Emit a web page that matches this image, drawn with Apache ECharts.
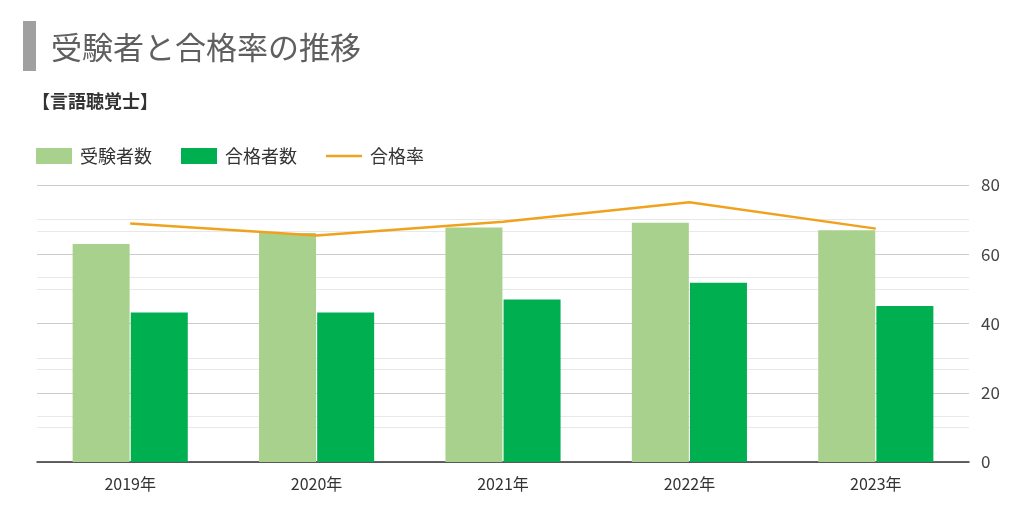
<!DOCTYPE html>
<html>
<head>
<meta charset="utf-8">
<script src="https://cdn.jsdelivr.net/npm/echarts@6/dist/echarts.min.js"></script>
<style>
html,body{margin:0;padding:0;background:#fff;}
#c{width:1024px;height:515px;}
</style>
</head>
<body>
<div id="c"></div>
<script>
const categories = ['2019年', '2020年', '2021年', '2022年', '2023年'];
const examinees = [2360, 2480, 2540, 2590, 2510];
const passers = [1620, 1620, 1760, 1940, 1690];
const passRate = [68.9, 65.4, 69.4, 75.0, 67.4];
const rateTicks = [0, 20, 40, 60, 80];

const FONT = '"Noto Sans CJK JP", "Noto Sans", sans-serif';
const chart = echarts.init(document.getElementById('c'), null, {renderer: 'canvas'});
chart.setOption({
  backgroundColor: '#ffffff',
  animation: false,
  textStyle: {fontFamily: FONT},
  graphic: [
    {type: 'rect', left: 23, top: 21, shape: {width: 13, height: 50}, style: {fill: '#a0a0a0'}},
    {type: 'text', left: 51, top: 32, style: {text: '受験者と合格率の推移', fill: '#5f5f5f', font: '31px ' + FONT}},
    {type: 'text', left: 32, top: 92, style: {text: '【言語聴覚士】', fill: '#333333', font: 'bold 18px ' + FONT}}
  ],
  legend: {
    left: 36, top: 147, padding: 0,
    itemWidth: 36, itemHeight: 16, itemGap: 29,
    textStyle: {fontSize: 18, color: '#333', fontFamily: FONT, padding: [0, 0, 0, 3]},
    data: [
      {name: '受験者数', icon: 'rect'},
      {name: '合格者数', icon: 'rect'},
      {name: '合格率', icon: 'path://M0,0 L36,0 L36,2.5 L0,2.5 Z'}]
  },
  grid: {left: 37, right: 55, top: 185, bottom: 53, containLabel: false},
  xAxis: {
    type: 'category', data: categories,
    axisTick: {show: false},
    axisLine: {lineStyle: {color: '#333', width: 1.5}},
    axisLabel: {fontSize: 16, color: '#333', margin: 14, fontFamily: FONT}
  },
  yAxis: [
    {type: 'value', min: 0, max: 3000, interval: 500, position: 'left',
     axisLabel: {show: false}, axisLine: {show: false}, axisTick: {show: false},
     splitLine: {lineStyle: {color: '#e8e8e8', width: 1}}},
    {type: 'value', min: 0, max: 80, interval: 20, position: 'right',
     axisLine: {show: false}, axisTick: {show: false},
     axisLabel: {fontSize: 17, color: '#444', margin: 12, fontFamily: FONT,
       formatter: v => rateTicks.includes(v) ? String(v) : ''},
     splitLine: {lineStyle: {color: '#cccccc', width: 1}},
     minorTick: {show: false, splitNumber: 2},
     minorSplitLine: {show: true, lineStyle: {color: '#e8e8e8', width: 1}}}
  ],
  series: [
    {name: '受験者数', type: 'bar', yAxisIndex: 0, data: examinees, barWidth: 57, barGap: '2%',
     itemStyle: {color: '#a9d18e'}},
    {name: '合格者数', type: 'bar', yAxisIndex: 0, data: passers, barWidth: 57, barGap: '2%',
     itemStyle: {color: '#00b050'}},
    {name: '合格率', type: 'line', yAxisIndex: 1, data: passRate, symbol: 'none', z: 5,
     lineStyle: {color: '#f0a21e', width: 2.5}, itemStyle: {color: '#f0a21e'}}
  ]
});
</script>
</body>
</html>
